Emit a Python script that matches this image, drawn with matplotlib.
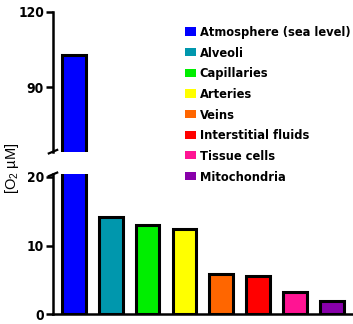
# O2 concentration along the oxygen cascade, broken y axis

import matplotlib
matplotlib.use("Agg")
import matplotlib.pyplot as plt
from matplotlib.patches import Patch
from matplotlib import font_manager
from matplotlib.font_manager import FontProperties

COMPARTMENTS = ["Atmosphere (sea level)", "Alveoli", "Capillaries", "Arteries",
                "Veins", "Interstitial fluids", "Tissue cells", "Mitochondria"]
O2_UM = [103, 14.1, 13.0, 12.4, 5.9, 5.5, 3.2, 2.0]
COLORS = ["#0000ff", "#0097ad", "#00ee00", "#ffff00",
          "#ff6600", "#ff0000", "#ff1493", "#8800aa"]
TOP_TICKS = [90, 120]
BOTTOM_TICKS = [0, 10, 20]


def pick_bold_font():
    # prefer a condensed / narrow bold sans if one is installed
    best = None
    for f in font_manager.fontManager.ttflist:
        name = f.name.lower()
        bold = f.weight in ("bold", "heavy") or (isinstance(f.weight, int) and f.weight >= 700)
        narrow = "narrow" in name or "condensed" in name or f.stretch in ("condensed", "semi-condensed")
        if bold and narrow and "mono" not in name and "serif" not in name:
            if best is None or "liberation" in name:
                best = f
    if best is not None:
        return FontProperties(fname=best.fname)
    return FontProperties(family="Liberation Sans", weight="bold")


BOLD = pick_bold_font()
plt.rcParams["font.family"] = ["Liberation Sans", "DejaVu Sans"]
plt.rcParams["mathtext.fontset"] = "custom"
plt.rcParams["mathtext.rm"] = "Liberation Sans"
plt.rcParams["mathtext.default"] = "regular"

W, H = 353, 324
fig = plt.figure(figsize=(W / 100, H / 100), dpi=100)
renderer = fig.canvas.get_renderer()


def size_for_width(text, target_px, max_size):
    fp = BOLD.copy()
    fp.set_size(10)
    t = fig.text(0, 0, text, fontproperties=fp)
    w = t.get_window_extent(renderer).width
    t.remove()
    return min(max_size, 10 * target_px / w)


legend_size = size_for_width("Atmosphere (sea level)", 150, 12)
tick_size = size_for_width("120", 26, 13)


def px_axes(x0, y0, x1, y1):
    return fig.add_axes([x0 / W, 1 - y1 / H, (x1 - x0) / W, (y1 - y0) / H])


ax_top = px_axes(53, 11.7, 352, 152)
ax_bot = px_axes(53, 174, 352, 314.3)

x = range(len(O2_UM))
for ax in (ax_top, ax_bot):
    ax.bar(x, O2_UM, width=0.64, color=COLORS, edgecolor="black", linewidth=2.2)
    ax.set_xlim(-0.57, 7.55)
    ax.spines["top"].set_visible(False)
    ax.spines["right"].set_visible(False)
    ax.spines["left"].set_linewidth(1.8)
    ax.spines["bottom"].set_linewidth(1.8)
    ax.set_xticks([])
    ax.tick_params(axis="y", width=1.8, length=5, pad=1.5)

ax_top.set_ylim(64.3, 120)
ax_top.set_yticks(TOP_TICKS)
ax_top.spines["bottom"].set_visible(False)
ax_bot.set_ylim(0, 20.4)
ax_bot.set_yticks(BOTTOM_TICKS)

tick_fp = BOLD.copy()
tick_fp.set_size(tick_size)
for ax in (ax_top, ax_bot):
    for lbl in ax.get_yticklabels():
        lbl.set_fontproperties(tick_fp)

# break marks on the left spine
ax_top.plot([-0.014, 0.014], [-0.01, 0.015], transform=ax_top.transAxes,
            color="black", lw=1.6, clip_on=False)
ax_bot.plot([-0.014, 0.014], [0.985, 1.01], transform=ax_bot.transAxes,
            color="black", lw=1.6, clip_on=False)

fig.text(12 / W, 1 - 168 / H, "[O$_2$ µM]", rotation=90, ha="center", va="center",
         fontsize=10.5)

leg_fp = BOLD.copy()
leg_fp.set_size(legend_size)
handles = [Patch(facecolor=c, edgecolor="none") for c in COLORS]
fig.legend(handles, COMPARTMENTS, loc="upper left",
           bbox_to_anchor=(185 / W, 1 - 26 / H), frameon=False, prop=leg_fp,
           handlelength=0.85, handleheight=0.6, handletextpad=0.3,
           labelspacing=0.6, borderpad=0, borderaxespad=0)

fig.savefig("out.png", dpi=100)
